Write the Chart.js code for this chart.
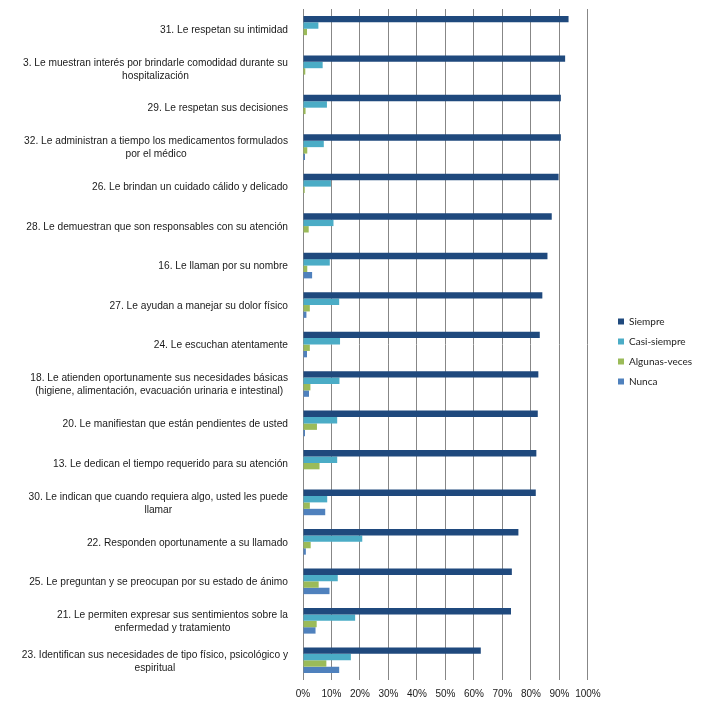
<!DOCTYPE html>
<html>
<head>
<meta charset="utf-8">
<script src="https://cdn.jsdelivr.net/npm/chart.js@4/dist/chart.umd.min.js"></script>
<style>
  html, body { margin: 0; padding: 0; background: #fff; }
  #wrap { width: 702px; height: 706px; position: relative; }
</style>
</head>
<body>
<div id="wrap"><canvas id="c" width="702" height="706"></canvas></div>
<script>
const categories = [
  ['31. Le respetan su intimidad'],
  ['3. Le muestran interés por brindarle comodidad durante su', 'hospitalización'],
  ['29. Le respetan sus decisiones'],
  ['32. Le administran a tiempo los medicamentos formulados', 'por el médico'],
  ['26. Le brindan un cuidado cálido y delicado'],
  ['28. Le demuestran que son responsables con su atención'],
  ['16. Le llaman por su nombre'],
  ['27. Le ayudan a manejar su dolor físico'],
  ['24. Le escuchan atentamente'],
  ['18. Le atienden oportunamente sus necesidades básicas', '(higiene, alimentación, evacuación urinaria e intestinal)'],
  ['20. Le manifiestan que están pendientes de usted'],
  ['13. Le dedican el tiempo requerido para su atención'],
  ['30. Le indican que cuando requiera algo, usted les puede', 'llamar'],
  ['22. Responden oportunamente a su llamado'],
  ['25. Le preguntan y se preocupan por su estado de ánimo'],
  ['21. Le permiten expresar sus sentimientos sobre la', 'enfermedad y tratamiento'],
  ['23. Identifican sus necesidades de tipo físico, psicológico y', 'espiritual']
];
const seriesNames = ['Siempre', 'Casi-siempre', 'Algunas-veces', 'Nunca'];
const siempre     = [93.2, 92.0, 90.5, 90.5, 89.7, 87.3, 85.8, 84.0, 83.1, 82.6, 82.4, 81.9, 81.7, 75.6, 73.3, 73.0, 62.4];
const casiSiempre = [5.4, 6.9, 8.4, 7.3, 9.8, 10.7, 9.4, 12.7, 13.0, 12.8, 12.0, 12.0, 8.5, 20.8, 12.2, 18.3, 16.8];
const algunasVeces= [1.4, 0.8, 0.9, 1.5, 0.6, 2.0, 1.5, 2.4, 2.4, 2.6, 4.9, 5.8, 2.4, 2.7, 5.5, 4.8, 8.2];
const nunca       = [0, 0, 0, 0.7, 0, 0, 3.2, 1.2, 1.4, 2.1, 0.7, 0, 7.8, 1.0, 9.3, 4.4, 12.7];
const xTicks = [0, 10, 20, 30, 40, 50, 60, 70, 80, 90, 100];

const colors = ['#1F497D', '#4BACC6', '#9BBB59', '#4F81BD'];
const seriesData = [siempre, casiSiempre, algunasVeces, nunca];

const yLabelPlugin = {
  id: 'yLabels',
  afterDraw(chart) {
    const ctx = chart.ctx;
    const ys = chart.scales.y;
    const rightEdge = 288;
    const lh = 13;
    ctx.save();
    ctx.font = '10.2px "Liberation Sans", Arial, sans-serif';
    ctx.fillStyle = '#1a1a1a';
    ctx.textAlign = 'center';
    ctx.textBaseline = 'middle';
    categories.forEach((lines, i) => {
      const yc = ys.getPixelForValue(i) + 1;
      let w = 0;
      lines.forEach(l => { w = Math.max(w, ctx.measureText(l).width); });
      const cx = rightEdge - w / 2;
      const y0 = yc - (lines.length - 1) * lh / 2;
      lines.forEach((l, k) => ctx.fillText(l, cx, y0 + k * lh));
    });
    ctx.restore();
  }
};

const legendShift = {
  id: 'legendShift',
  afterLayout(chart) {
    const lg = chart.legend;
    const pad = chart.options.plugins.legend.labels.padding;
    const dx = 618 - pad - lg.left;
    lg.left += dx; lg.right += dx;
    lg.top -= 6; lg.bottom -= 6;
  }
};

new Chart(document.getElementById('c'), {
  type: 'bar',
  data: {
    labels: categories.map(c => c.join(' ')),
    datasets: seriesNames.map((n, i) => ({
      label: n,
      data: seriesData[i],
      backgroundColor: colors[i],
      borderWidth: 0,
      categoryPercentage: 0.65,
      barPercentage: 1.0
    }))
  },
  options: {
    indexAxis: 'y',
    responsive: false,
    animation: false,
    devicePixelRatio: 1,
    layout: { padding: { top: 9, right: 20, left: 0, bottom: 0 } },
    scales: {
      x: {
        min: 0, max: 100,
        afterBuildTicks(scale) { scale.ticks = xTicks.map(v => ({ value: v })); },
        ticks: {
          callback: v => v + '%',
          font: { family: '"Liberation Sans", Arial, sans-serif', size: 10 },
          color: '#1a1a1a',
          padding: 8,
          maxRotation: 0,
          autoSkip: false
        },
        grid: { color: '#878787', lineWidth: 1, drawTicks: false },
        border: { display: false },
        afterFit(scale) { scale.height = 26; }
      },
      y: {
        ticks: { display: false },
        grid: { display: false, drawTicks: false },
        border: { display: false },
        afterFit(scale) { scale.width = 303; }
      }
    },
    plugins: {
      legend: {
        position: 'right',
        labels: {
          boxWidth: 6,
          boxHeight: 6,
          padding: 10,
          color: '#222',
          font: { family: 'Lato, "Open Sans", sans-serif', size: 10 }
        }
      },
      tooltip: { enabled: false }
    }
  },
  plugins: [yLabelPlugin, legendShift]
});
</script>
</body>
</html>
